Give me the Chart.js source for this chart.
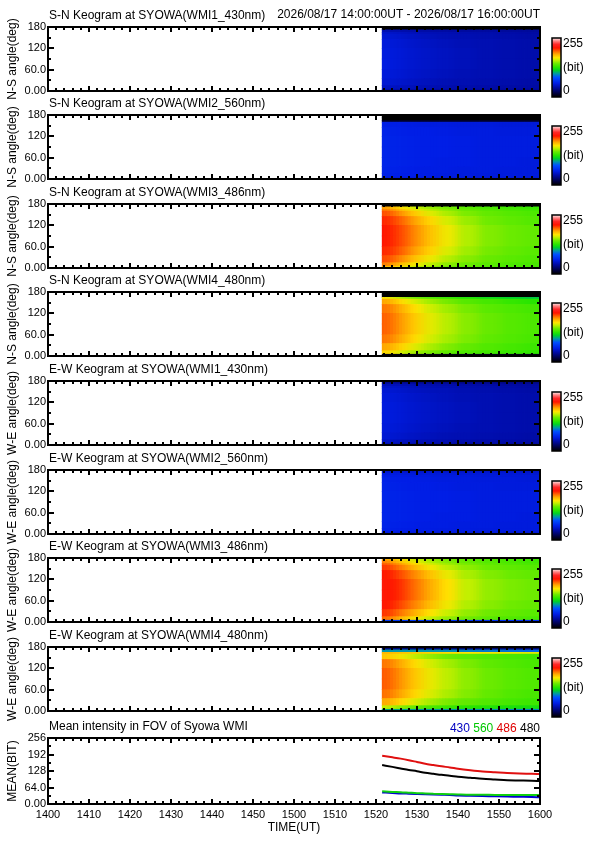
<!DOCTYPE html>
<html>
<head>
<meta charset="utf-8">
<title>Syowa WMI keograms</title>
<script src="https://cdn.jsdelivr.net/npm/chart.js@4.4.1/dist/chart.umd.min.js"></script>
<style>
  html, body { margin: 0; padding: 0; background: #fff; }
  #page { position: relative; width: 595px; height: 842px; overflow: hidden; background: #fff; }
  #page canvas { position: absolute; left: 0; }
</style>
</head>
<body>
<div id="page"></div>
<script>
// keogram columns: centre of each time bin, minutes after 14:00 UT
const timeCenters = [82.5, 84.5, 87, 90, 93.5, 97.5, 102.5, 108, 114, 118.5];
// angle bin edges (deg), bottom to top
const angleEdges = [0, 5, 15, 35, 60, 90, 120, 145, 160, 165, 172, 180];

// intensity (bit), one row per angle bin (bottom first), one value per time bin
const snWmi1_430 = [
  [44, 43, 42, 41, 40, 40, 39, 39, 38, 38],
  [50, 49, 48, 47, 45, 44, 43, 42, 41, 41],
  [55, 54, 52, 50, 48, 46, 45, 44, 43, 42],
  [57, 56, 54, 52, 50, 48, 46, 45, 44, 43],
  [59, 57, 55, 53, 51, 49, 47, 45, 44, 43],
  [58, 57, 55, 53, 51, 49, 47, 45, 44, 43],
  [57, 56, 54, 52, 50, 48, 46, 45, 44, 43],
  [55, 54, 52, 50, 48, 46, 45, 44, 43, 42],
  [52, 51, 49, 47, 46, 45, 44, 43, 42, 41],
  [46, 45, 44, 43, 42, 41, 40, 40, 39, 39],
  [0, 0, 0, 0, 0, 0, 0, 0, 0, 0]
];
const snWmi2_560 = [
  [58, 58, 57, 57, 56, 56, 56, 55, 55, 55],
  [62, 61, 60, 60, 59, 58, 58, 57, 57, 57],
  [63, 62, 61, 60, 59, 59, 58, 58, 57, 57],
  [64, 63, 62, 61, 60, 59, 59, 58, 58, 57],
  [64, 63, 62, 61, 60, 60, 59, 58, 58, 58],
  [64, 63, 62, 61, 60, 60, 59, 58, 58, 58],
  [63, 62, 61, 60, 60, 59, 58, 58, 57, 57],
  [61, 60, 60, 59, 58, 58, 57, 57, 56, 56],
  [10, 10, 10, 10, 10, 10, 10, 10, 10, 10],
  [0, 0, 0, 0, 0, 0, 0, 0, 0, 0],
  [0, 0, 0, 0, 0, 0, 0, 0, 0, 0]
];
const snWmi3_486 = [
  [182, 174, 166, 158, 151, 145, 141, 138, 136, 135],
  [194, 186, 177, 167, 158, 150, 144, 140, 137, 136],
  [203, 197, 188, 177, 167, 157, 149, 143, 140, 138],
  [209, 204, 196, 185, 174, 163, 153, 146, 142, 140],
  [212, 207, 200, 189, 178, 167, 156, 148, 144, 142],
  [212, 207, 200, 189, 178, 167, 156, 148, 144, 142],
  [209, 203, 195, 184, 173, 162, 152, 145, 141, 139],
  [202, 195, 186, 175, 164, 155, 147, 142, 139, 137],
  [194, 186, 176, 166, 157, 149, 143, 139, 136, 134],
  [188, 179, 169, 160, 152, 146, 140, 136, 134, 132],
  [0, 0, 0, 0, 0, 0, 0, 0, 0, 0]
];
const snWmi4_480 = [
  [5, 5, 5, 5, 5, 5, 5, 5, 5, 5],
  [174, 168, 160, 153, 147, 141, 137, 134, 132, 130],
  [186, 180, 172, 163, 155, 148, 142, 138, 135, 133],
  [195, 189, 181, 171, 162, 154, 147, 141, 138, 136],
  [199, 193, 185, 175, 165, 157, 149, 143, 139, 137],
  [199, 193, 185, 175, 165, 157, 149, 143, 139, 137],
  [195, 189, 180, 170, 161, 153, 146, 140, 137, 135],
  [186, 179, 170, 161, 153, 146, 139, 135, 131, 128],
  [170, 162, 153, 145, 138, 132, 126, 120, 115, 112],
  [0, 0, 0, 0, 0, 0, 0, 0, 0, 0],
  [0, 0, 0, 0, 0, 0, 0, 0, 0, 0]
];
const ewWmi1_430 = [
  [45, 44, 43, 42, 41, 40, 40, 39, 39, 38],
  [51, 50, 48, 47, 45, 44, 43, 42, 42, 41],
  [55, 54, 52, 50, 48, 46, 45, 44, 43, 42],
  [57, 56, 54, 52, 50, 48, 46, 45, 44, 43],
  [58, 57, 55, 53, 51, 49, 47, 45, 44, 43],
  [58, 57, 55, 53, 51, 49, 47, 45, 44, 43],
  [57, 56, 54, 52, 50, 48, 46, 45, 44, 43],
  [55, 54, 52, 50, 48, 47, 45, 44, 43, 42],
  [52, 51, 50, 48, 46, 45, 44, 43, 42, 41],
  [48, 47, 46, 45, 44, 43, 42, 41, 40, 40],
  [36, 36, 35, 35, 34, 34, 33, 33, 33, 33]
];
const ewWmi2_560 = [
  [57, 57, 56, 56, 56, 55, 55, 55, 54, 54],
  [61, 61, 60, 59, 59, 58, 58, 57, 57, 57],
  [63, 62, 61, 60, 59, 59, 58, 58, 57, 57],
  [64, 63, 62, 61, 60, 59, 59, 58, 58, 57],
  [64, 63, 62, 61, 60, 60, 59, 58, 58, 58],
  [64, 63, 62, 61, 60, 60, 59, 58, 58, 58],
  [63, 62, 61, 60, 60, 59, 58, 58, 57, 57],
  [62, 61, 60, 60, 59, 58, 58, 57, 57, 56],
  [60, 59, 59, 58, 58, 57, 57, 56, 56, 56],
  [58, 57, 57, 56, 56, 56, 55, 55, 55, 54],
  [52, 52, 51, 51, 51, 50, 50, 50, 50, 50]
];
const ewWmi3_486 = [
  [75, 74, 73, 72, 71, 70, 70, 69, 69, 68],
  [197, 188, 178, 168, 159, 151, 145, 140, 138, 136],
  [207, 200, 191, 181, 170, 160, 151, 145, 142, 140],
  [213, 208, 200, 190, 179, 167, 156, 149, 145, 143],
  [215, 211, 204, 194, 183, 171, 159, 151, 147, 145],
  [215, 211, 204, 194, 183, 171, 159, 151, 147, 145],
  [212, 207, 199, 189, 178, 166, 155, 148, 144, 142],
  [206, 199, 190, 179, 168, 158, 150, 144, 141, 139],
  [199, 191, 181, 171, 161, 152, 146, 141, 138, 136],
  [193, 185, 175, 165, 156, 149, 143, 139, 136, 134],
  [186, 178, 168, 159, 152, 146, 141, 137, 135, 133]
];
const ewWmi4_480 = [
  [105, 104, 103, 102, 101, 100, 99, 98, 97, 96],
  [160, 155, 148, 142, 137, 133, 129, 126, 124, 123],
  [185, 179, 171, 162, 154, 147, 142, 138, 135, 133],
  [196, 190, 182, 172, 163, 155, 148, 142, 138, 136],
  [200, 194, 186, 176, 166, 158, 150, 144, 140, 138],
  [200, 194, 186, 176, 166, 158, 150, 144, 140, 138],
  [195, 189, 181, 171, 162, 154, 147, 141, 138, 136],
  [178, 173, 166, 158, 151, 145, 141, 138, 136, 134],
  [182, 180, 178, 176, 174, 172, 170, 168, 166, 165],
  [100, 100, 100, 100, 100, 98, 96, 94, 92, 90],
  [30, 30, 30, 29, 29, 29, 28, 28, 28, 28]
];

// mean intensity in the field of view
const meanTimes = [81.5, 84, 86, 88, 90, 92, 94, 96, 98, 100, 103, 106, 109, 112, 115, 118, 120];
const mean430 = [45, 43, 41, 40, 39, 38, 37, 36, 35, 33, 32, 31, 30, 29, 28, 27, 26];
const mean560 = [49, 47, 46, 44, 42, 41, 40, 39, 38, 37, 36, 36, 35, 35, 35, 35, 35];
const mean486 = [187, 181, 176, 170, 163, 156, 151, 146, 142, 137, 131, 126, 123, 120, 118, 117, 116];
const mean480 = [151, 144, 138, 132, 127, 121, 117, 113, 110, 106, 102, 98, 95, 92, 91, 90, 89];

const timeTickLabels = ['1400', '1410', '1420', '1430', '1440', '1450', '1500',
  '1510', '1520', '1530', '1540', '1550', '1600'];
const angleTickLabels = ['0.00', '60.0', '120', '180'];
const meanTickLabels = ['0.00', '64.0', '128', '192', '256'];

const panelTitles = [
  'S-N Keogram at SYOWA(WMI1_430nm)', 'S-N Keogram at SYOWA(WMI2_560nm)',
  'S-N Keogram at SYOWA(WMI3_486nm)', 'S-N Keogram at SYOWA(WMI4_480nm)',
  'E-W Keogram at SYOWA(WMI1_430nm)', 'E-W Keogram at SYOWA(WMI2_560nm)',
  'E-W Keogram at SYOWA(WMI3_486nm)', 'E-W Keogram at SYOWA(WMI4_480nm)'
];
const keoGrids = [snWmi1_430, snWmi2_560, snWmi3_486, snWmi4_480,
  ewWmi1_430, ewWmi2_560, ewWmi3_486, ewWmi4_480];
const dateRange = '2026/08/17 14:00:00UT - 2026/08/17 16:00:00UT';

// colour table (bit -> rgb)
const cmapLevels = [0, 15, 40, 60, 85, 100, 115, 128, 145, 160, 170, 185, 198, 212, 228, 242, 255];
const cmapColors = [[0, 0, 0], [0, 0, 60], [0, 10, 160], [0, 30, 230], [0, 80, 255], [0, 150, 170],
  [0, 210, 40], [40, 230, 0], [110, 235, 0], [200, 240, 0], [255, 230, 0], [255, 170, 0],
  [255, 100, 0], [255, 20, 0], [255, 40, 40], [255, 130, 130], [255, 240, 240]];

function cmap(v) {
  let i = 0;
  while (i < cmapLevels.length - 2 && v > cmapLevels[i + 1]) i++;
  const t = Math.max(0, Math.min(1, (v - cmapLevels[i]) / (cmapLevels[i + 1] - cmapLevels[i])));
  const a = cmapColors[i], b = cmapColors[i + 1];
  const c = a.map((x, k) => Math.round(x + (b[k] - x) * t));
  return 'rgb(' + c.join(',') + ')';
}

Chart.defaults.font.family = "'Liberation Sans', Arial, sans-serif";
Chart.defaults.font.size = 12;
Chart.defaults.color = '#000';

const tickFont = { family: "'Liberation Sans', sans-serif", size: 11 };
const textFont = "12px 'Liberation Sans', Arial, sans-serif";

// soften the blocky keogram bins horizontally
const keoSmooth = {
  id: 'keoSmooth',
  afterDatasetsDraw(chart) {
    const first = chart.getDatasetMeta(0).data[0];
    if (!first || !isFinite(first.width)) return;
    const a = chart.chartArea;
    const r = chart.currentDevicePixelRatio;
    const left = Math.ceil(first.x - first.width / 2);
    const ctx = chart.ctx;
    ctx.save();
    ctx.setTransform(1, 0, 0, 1, 0, 0);
    ctx.beginPath();
    ctx.rect(left * r, a.top * r, (a.right - left) * r, a.height * r);
    ctx.clip();
    ctx.globalAlpha = 0.5;
    [6, -6, 3, -3].forEach(dx => ctx.drawImage(chart.canvas, dx * r, 0));
    ctx.restore();
  }
};

// IDL-like box with inward ticks
const framePlugin = {
  id: 'frame',
  afterDraw(chart, args, opts) {
    const { ctx, chartArea: a, scales } = chart;
    ctx.save();
    ctx.strokeStyle = '#000';
    ctx.lineWidth = 2;
    ctx.beginPath();
    scales.x.ticks.forEach(t => {
      const px = Math.round(scales.x.getPixelForValue(t.value));
      const len = t.value % 10 === 0 ? 5 : 3;
      ctx.moveTo(px, a.bottom); ctx.lineTo(px, a.bottom - len);
      ctx.moveTo(px, a.top); ctx.lineTo(px, a.top + len);
    });
    scales.y.ticks.forEach(t => {
      const py = Math.round(scales.y.getPixelForValue(t.value));
      const len = t.value % opts.yMajor === 0 ? 6 : 3;
      ctx.moveTo(a.left, py); ctx.lineTo(a.left + len, py);
      ctx.moveTo(a.right, py); ctx.lineTo(a.right - len, py);
    });
    ctx.stroke();
    ctx.strokeRect(a.left, a.top, a.right - a.left, a.bottom - a.top);
    ctx.restore();
  }
};

// titles, colour bar, legend
const panelText = {
  id: 'panelText',
  afterDraw(chart, args, opts) {
    const { ctx, chartArea: a } = chart;
    ctx.save();
    ctx.font = textFont;
    ctx.fillStyle = '#000';
    ctx.textBaseline = 'alphabetic';
    ctx.textAlign = 'left';
    ctx.fillText(opts.title, a.left + 1, a.top - 8);
    if (opts.right) {
      ctx.textAlign = 'right';
      ctx.fillText(opts.right, a.right, a.top - 9);
    }
    if (opts.legend) {
      ctx.textAlign = 'right';
      let x = a.right;
      const gap = ctx.measureText(' ').width;
      for (let i = opts.legend.length - 1; i >= 0; i--) {
        ctx.fillStyle = opts.legend[i].color;
        ctx.fillText(opts.legend[i].text, x, a.top - 6);
        x -= ctx.measureText(opts.legend[i].text).width + gap;
      }
    }
    if (opts.colorbar) {
      const x0 = 552, w = 9, top = a.top + 11, bottom = a.bottom + 6;
      const g = ctx.createLinearGradient(0, bottom, 0, top);
      cmapLevels.forEach(lv => g.addColorStop(lv / 255, cmap(lv)));
      ctx.fillStyle = g;
      ctx.fillRect(x0, top, w, bottom - top);
      ctx.strokeStyle = '#000';
      ctx.lineWidth = 1.5;
      ctx.strokeRect(x0, top, w, bottom - top);
      ctx.fillStyle = '#000';
      ctx.textAlign = 'left';
      ctx.textBaseline = 'middle';
      ctx.fillText('255', x0 + w + 2, top + 6);
      ctx.fillText('(bit)', x0 + w + 2, (top + bottom) / 2);
      ctx.fillText('0', x0 + w + 2, bottom - 6);
    }
    ctx.restore();
  }
};

function makeCanvas(top, height) {
  const c = document.createElement('canvas');
  c.width = 595;
  c.height = height;
  c.style.top = top + 'px';
  c.style.width = '595px';
  c.style.height = height + 'px';
  document.getElementById('page').appendChild(c);
  return c;
}

const plotLeft = 48, plotRight = 540;
const panelTops = [27, 115, 204, 292, 381, 470, 558, 647];

function cellColor(ctx) {
  return ctx.raw && ctx.raw.v !== undefined ? cmap(ctx.raw.v) : 'rgba(0,0,0,0)';
}

function keogram(i) {
  const grid = keoGrids[i];
  const canvas = makeCanvas(panelTops[i] - 22, 100);
  // one dataset per angle bin, all sharing one stack slot so cells sit side by side
  const datasets = grid.map((row, r) => ({
    data: timeCenters.map((t, c) => ({ x: t, y: [angleEdges[r], angleEdges[r + 1]], v: row[c] })),
    backgroundColor: cellColor,
    borderWidth: 0,
    barThickness: 'flex',
    barPercentage: 1,
    categoryPercentage: 1,
    stack: 'keo'
  }));
  new Chart(canvas, {
    type: 'bar',
    data: { datasets },
    options: {
      responsive: false,
      animation: false,
      events: [],
      layout: { padding: { left: 0, top: 22, right: 595 - plotRight, bottom: 14 } },
      plugins: {
        legend: { display: false },
        tooltip: { enabled: false },
        frame: { yMajor: 60 },
        panelText: { title: panelTitles[i], right: i === 0 ? dateRange : null, colorbar: true }
      },
      scales: {
        x: {
          type: 'linear', min: 0, max: 120, offset: false,
          ticks: { display: false, stepSize: 2 },
          grid: { display: false, drawTicks: false },
          border: { display: false },
          afterFit: s => { s.height = 0; }
        },
        y: {
          type: 'linear', min: 0, max: 180, stacked: false,
          ticks: {
            stepSize: 30, autoSkip: false, padding: 2, font: tickFont,
            callback: v => (v % 60 === 0 ? angleTickLabels[v / 60] : '')
          },
          grid: { display: false, drawTicks: false },
          border: { display: false },
          title: {
            display: true, text: i < 4 ? 'N-S angle(deg)' : 'W-E angle(deg)',
            padding: { top: 5, bottom: 0 }
          },
          afterFit: s => { s.width = plotLeft; }
        }
      }
    },
    plugins: [keoSmooth, framePlugin, panelText]
  });
}

for (let i = 0; i < keoGrids.length; i++) keogram(i);

// mean intensity panel
(function () {
  const top = 738, bottom = 804, cTop = 715, cHeight = 127;
  const canvas = makeCanvas(cTop, cHeight);
  const line = (vals, color) => ({
    data: meanTimes.map((t, k) => ({ x: t, y: vals[k] })),
    borderColor: color,
    borderWidth: 2,
    pointRadius: 0,
    fill: false,
    cubicInterpolationMode: 'monotone'
  });
  new Chart(canvas, {
    type: 'line',
    data: {
      datasets: [
        line(mean560, '#10d010'),
        line(mean430, '#0000d0'),
        line(mean486, '#e01010'),
        line(mean480, '#000000')
      ]
    },
    options: {
      responsive: false,
      animation: false,
      events: [],
      layout: { padding: { left: 0, top: top - cTop, right: 595 - plotRight, bottom: 0 } },
      plugins: {
        legend: { display: false },
        tooltip: { enabled: false },
        frame: { yMajor: 64 },
        panelText: {
          title: 'Mean intensity in FOV of Syowa WMI',
          legend: [
            { text: '430', color: '#0000c0' },
            { text: '560', color: '#00c800' },
            { text: '486', color: '#e00000' },
            { text: '480', color: '#000000' }
          ]
        }
      },
      scales: {
        x: {
          type: 'linear', min: 0, max: 120,
          ticks: {
            stepSize: 2, autoSkip: false, maxRotation: 0, minRotation: 0, padding: 4, font: tickFont,
            callback: v => (v % 10 === 0 ? timeTickLabels[v / 10] : '')
          },
          grid: { display: false, drawTicks: false },
          border: { display: false },
          title: { display: true, text: 'TIME(UT)', padding: { top: 0, bottom: 7 } },
          afterFit: s => { s.height = cHeight - (bottom - cTop); }
        },
        y: {
          min: 0, max: 256,
          ticks: {
            stepSize: 32, autoSkip: false, padding: 2, font: tickFont,
            callback: v => (v % 64 === 0 ? meanTickLabels[v / 64] : '')
          },
          grid: { display: false, drawTicks: false },
          border: { display: false },
          title: { display: true, text: 'MEAN(BIT)', padding: { top: 5, bottom: 0 } },
          afterFit: s => { s.width = plotLeft; }
        }
      }
    },
    plugins: [framePlugin, panelText]
  });
})();
</script>
</body>
</html>
